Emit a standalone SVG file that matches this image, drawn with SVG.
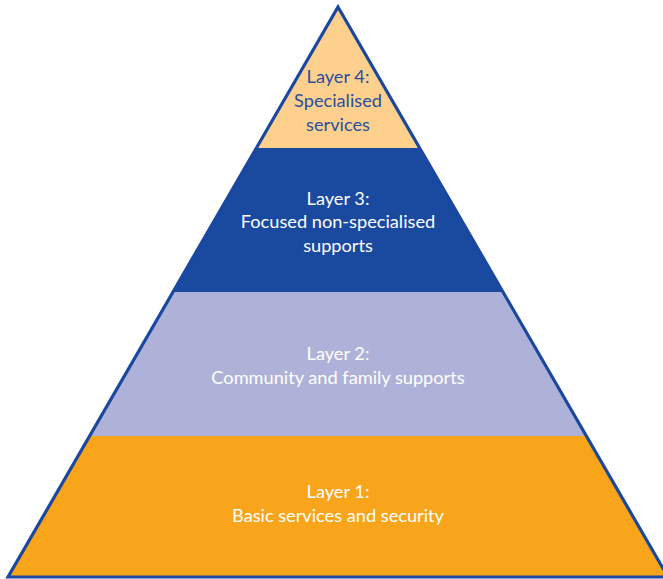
<svg xmlns="http://www.w3.org/2000/svg" width="663" height="579" viewBox="0 0 663 579">
<style>
text{font-family:Lato,"Open Sans","Liberation Sans",sans-serif;font-size:18.2px;text-anchor:middle}
.w{fill:#ffffff}
.d{fill:#2a4ea0}
.edge{fill:none;stroke:#1a47a0;stroke-width:3.2;stroke-linejoin:miter}
</style>
<rect width="663" height="579" fill="#ffffff"/>
<g id="layer4">
<polygon points="338,7 419.6,148 256.4,148" fill="#fdd08e"/>
<text class="d" x="338" y="83">Layer 4:</text>
<text class="d" x="338" y="107">Specialised</text>
<text class="d" x="338" y="131">services</text>
</g>
<g id="layer3">
<polygon points="256.4,148 419.6,148 502.9,292 173.1,292" fill="#1a49a0"/>
<text class="w" x="338" y="205">Layer 3:</text>
<text class="w" x="338" y="228">Focused non-specialised</text>
<text class="w" x="338" y="252">supports</text>
</g>
<g id="layer2">
<polygon points="173.1,292 502.9,292 586.3,436 89.7,436" fill="#afb2d8"/>
<text class="w" x="338" y="360">Layer 2:</text>
<text class="w" x="338" y="384">Community and family supports</text>
</g>
<g id="layer1">
<polygon points="89.7,436 586.3,436 668,577 8,577" fill="#f8a51b"/>
<text class="w" x="338" y="498">Layer 1:</text>
<text class="w" x="338" y="522">Basic services and security</text>
</g>
<g id="connectors">
<polygon class="edge" points="338,7 668,577 8,577"/>
</g>
</svg>
